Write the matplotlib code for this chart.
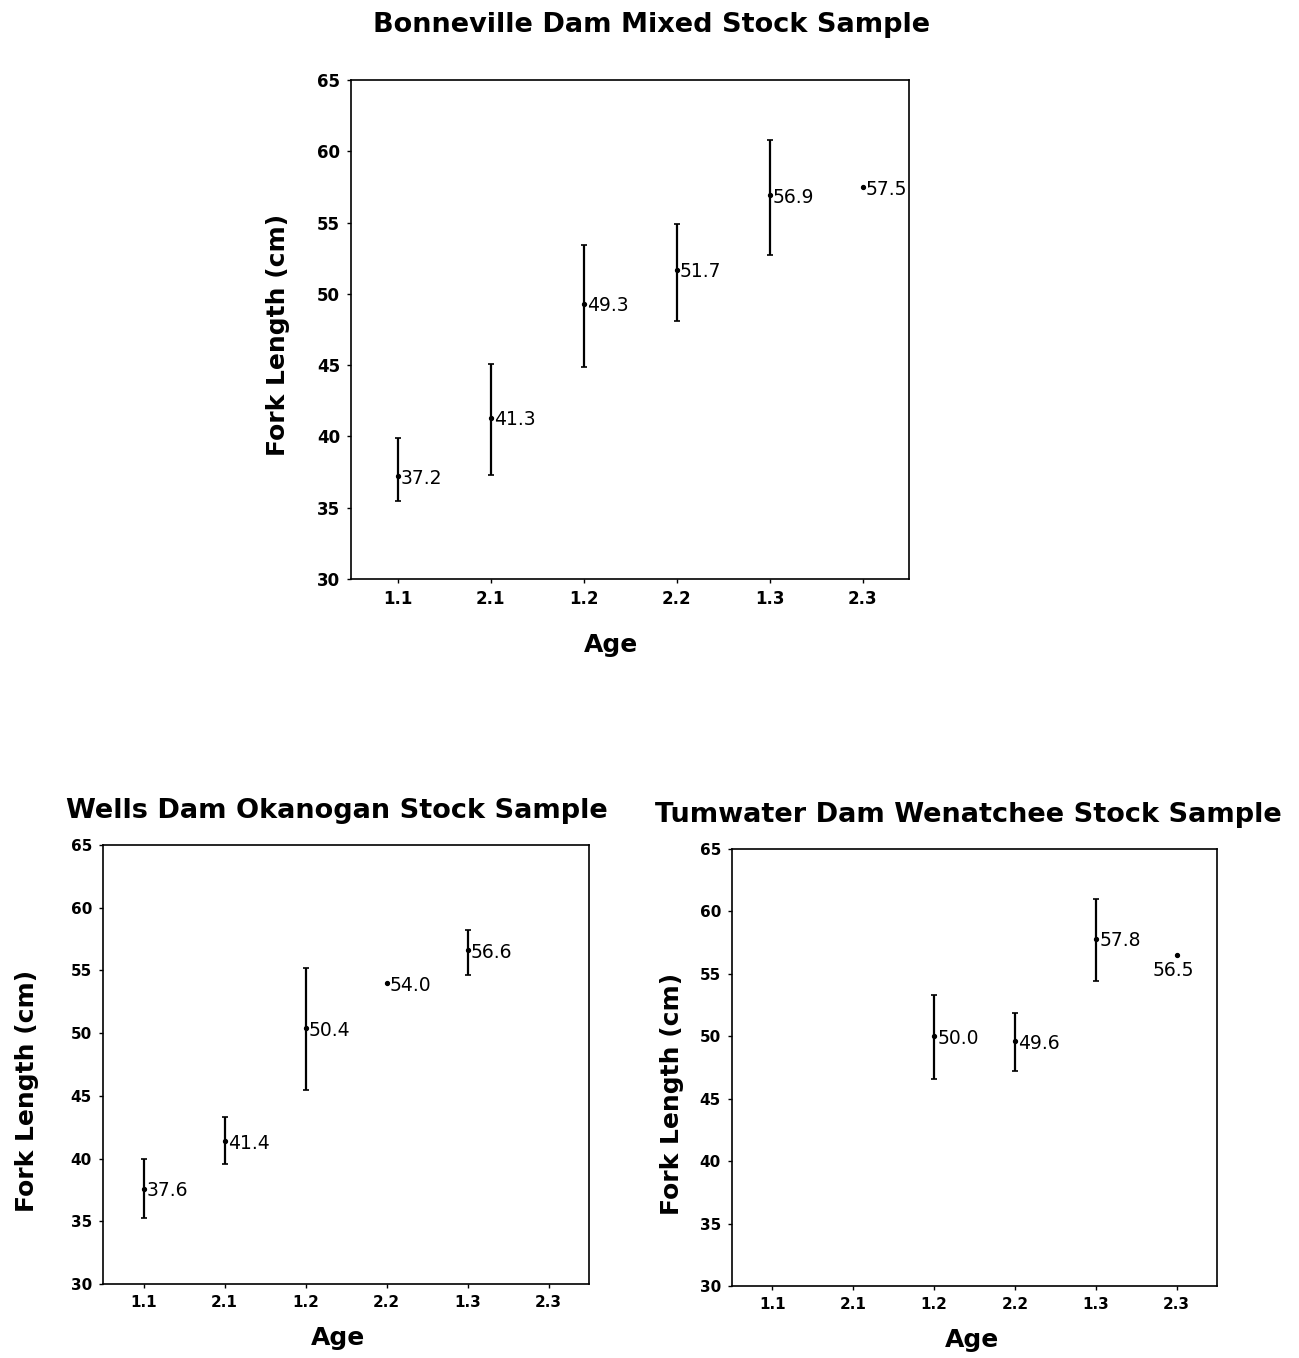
import numpy as np
import matplotlib
matplotlib.use("Agg")
import matplotlib.pyplot as plt

#%% Datos
ages = ["1.1", "2.1", "1.2", "2.2", "1.3", "2.3"]
nan = np.nan

bonn_mean = [37.2, 41.3, 49.3, 51.7, 56.9, 57.5]
bonn_lo = [35.5, 37.3, 44.9, 48.1, 52.7, nan]
bonn_hi = [39.9, 45.1, 53.4, 54.9, 60.8, nan]

wells_mean = [37.6, 41.4, 50.4, 54.0, 56.6, nan]
wells_lo = [35.3, 39.6, 45.5, nan, 54.6, nan]
wells_hi = [40.0, 43.3, 55.2, nan, 58.2, nan]

tum_mean = [nan, nan, 50.0, 49.6, 57.8, 56.5]
tum_lo = [nan, nan, 46.6, 47.2, 54.4, nan]
tum_hi = [nan, nan, 53.3, 51.9, 61.0, nan]

yticks = [30, 35, 40, 45, 50, 55, 60, 65]

plt.rcParams['font.family'] = ['DejaVu Sans']

fig = plt.figure(figsize=(12.99, 13.58), dpi=100)
W, H = 1299, 1358


def px_axes(l, t, r, b):
    return fig.add_axes([l / W, 1 - b / H, (r - l) / W, (b - t) / H])


def panel(ax, mean, lo, hi, tick_fs, below=()):
    xx = np.arange(len(ages))
    for i, m in enumerate(mean):
        if np.isnan(m):
            continue
        if not np.isnan(lo[i]):
            ax.errorbar(xx[i], m, yerr=[[m - lo[i]], [hi[i] - m]], fmt='none',
                        ecolor='black', elinewidth=1.6, capsize=2.5, capthick=1.2)
        ax.plot(xx[i], m, 'o', color='black', ms=2.8)
        if i in below:
            ax.annotate(f"{m:.1f}", (xx[i], m), xytext=(-2, -4), textcoords='offset points',
                        ha='center', va='top', fontsize=13.5)
        else:
            ax.annotate(f"{m:.1f}", (xx[i], m), xytext=(2.5, -1.5), textcoords='offset points',
                        ha='left', va='center', fontsize=13.5)
    ax.set_xlim(-0.5, 5.5)
    ax.set_ylim(30, 65)
    ax.set_xticks(xx)
    ax.set_xticklabels(ages, fontweight='bold', fontsize=tick_fs)
    ax.set_yticks(yticks)
    ax.set_yticklabels([str(v) for v in yticks], fontweight='bold', fontsize=tick_fs)
    ax.tick_params(direction='out', length=3, width=1, pad=5, top=False, right=False)
    for s in ax.spines.values():
        s.set_linewidth(1.2)
    ax.set_xlabel("Age", fontsize=18, fontweight='bold', va='center')
    ax.set_ylabel("Fork Length (cm)", fontsize=18, fontweight='bold', va='center')


#%% Bonneville
ax1 = px_axes(351, 80, 909, 579)
panel(ax1, bonn_mean, bonn_lo, bonn_hi, 12)
ax1.xaxis.set_label_coords(0.466, -0.132)
ax1.yaxis.set_label_coords(-0.131, 0.49)
fig.text(652 / W, 1 - 32 / H, "Bonneville Dam Mixed Stock Sample", ha='center',
         va='baseline', fontsize=19.5, fontweight='bold')

#%% Wells
ax2 = px_axes(103, 845, 589, 1284)
panel(ax2, wells_mean, wells_lo, wells_hi, 11)
ax2.xaxis.set_label_coords(0.484, -0.123)
ax2.yaxis.set_label_coords(-0.156, 0.44)
fig.text(337 / W, 1 - 818 / H, "Wells Dam Okanogan Stock Sample", ha='center',
         va='baseline', fontsize=19.5, fontweight='bold')

#%% Tumwater
ax3 = px_axes(732, 849, 1217, 1286)
panel(ax3, tum_mean, tum_lo, tum_hi, 11, below=(5,))
ax3.xaxis.set_label_coords(0.495, -0.124)
ax3.yaxis.set_label_coords(-0.124, 0.44)
fig.text(968 / W, 1 - 822 / H, "Tumwater Dam Wenatchee Stock Sample", ha='center',
         va='baseline', fontsize=19.5, fontweight='bold')

fig.savefig("out.png", dpi=100)
